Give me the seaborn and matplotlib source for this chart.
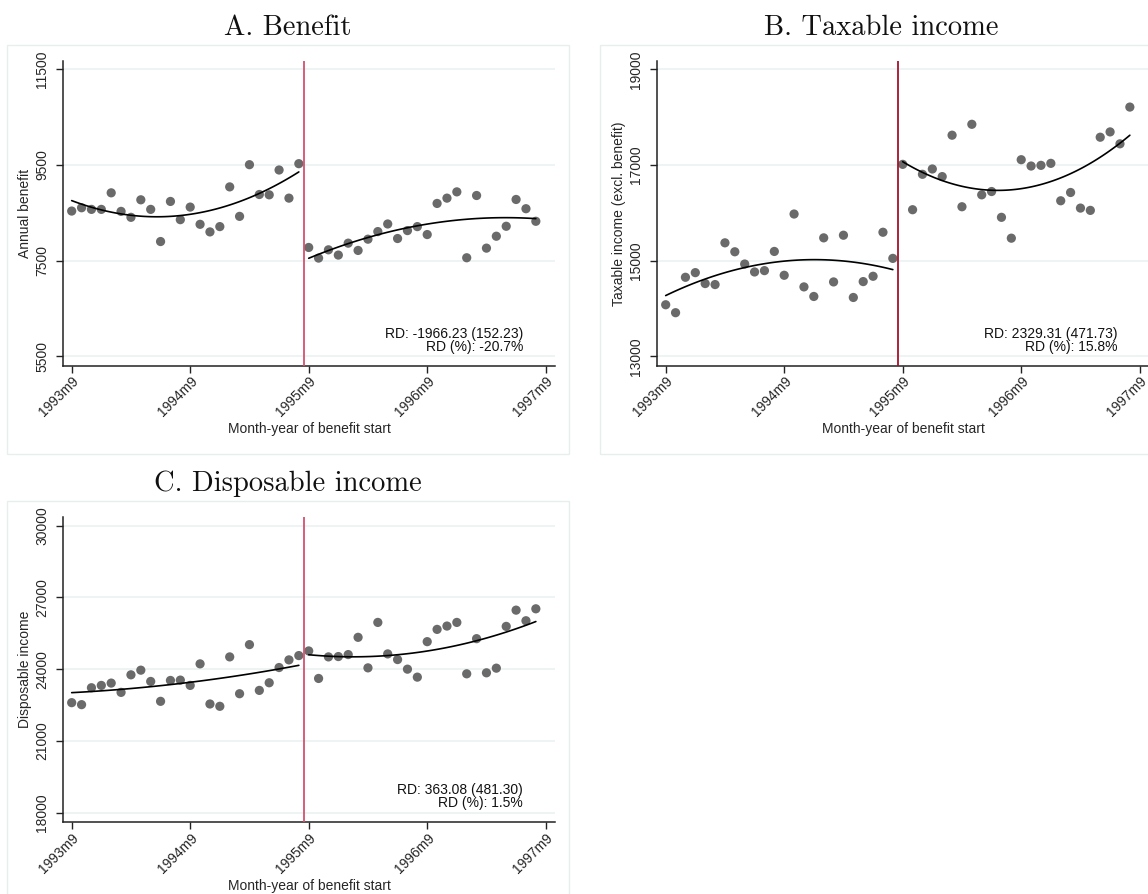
import numpy as np
import pandas as pd
import matplotlib
matplotlib.use("Agg")
import matplotlib.pyplot as plt
import seaborn as sns
from matplotlib.patches import Rectangle

# ---------------- data ----------------
month_index = list(range(48))          # 0 = 1993m9 ... 47 = 1997m8
tick_months = [0, 12, 24, 36, 48]
tick_labels = ["1993m9", "1994m9", "1995m9", "1996m9", "1997m9"]
cutoff = 23.5                          # reform at 1995m9

benefit = [8538, 8607, 8573, 8573, 8919, 8531, 8407, 8773, 8573, 7901, 8739, 8358,
           8621, 8261, 8102, 8213, 9043, 8427, 9507, 8884, 8877, 9396, 8808, 9528,
           7777, 7555, 7728, 7618, 7867, 7715, 7950, 8109, 8268, 7964, 8130, 8213,
           8047, 8697, 8808, 8939, 7562, 8863, 7763, 8012, 8220, 8780, 8587, 8324]

taxable = [14080, 13914, 14654, 14751, 14523, 14502, 15374, 15187, 14931, 14765, 14793, 15194,
           14696, 15976, 14453, 14253, 15478, 14557, 15533, 14232, 14564, 14675, 15595, 15049,
           17014, 16066, 16806, 16917, 16758, 17623, 16128, 17851, 16377, 16446, 15907, 15471,
           17111, 16979, 16993, 17035, 16253, 16426, 16100, 16052, 17581, 17692, 17443, 18211]

disposable = [22600, 22517, 23224, 23321, 23418, 23030, 23764, 23958, 23487, 22656, 23529, 23543,
              23321, 24222, 22545, 22448, 24513, 22974, 25026, 23113, 23432, 24069, 24388, 24568,
              24762, 23612, 24513, 24527, 24610, 25331, 24055, 25954, 24638, 24402, 24000, 23667,
              25150, 25663, 25802, 25954, 23806, 25275, 23848, 24042, 25788, 26467, 26024, 26523]

titles = ["A. Benefit", "B. Taxable income", "C. Disposable income"]
ylabels = ["Annual benefit", "Taxable income (excl. benefit)", "Disposable income"]
yticks = [[5500, 7500, 9500, 11500], [13000, 15000, 17000, 19000],
          [18000, 21000, 24000, 27000, 30000]]
ylims = [(5300, 11680), (12800, 19180), (17600, 30360)]
rd_text = [("RD: -1966.23 (152.23)", "RD (%): -20.7%"),
           ("RD: 2329.31 (471.73)", "RD (%): 15.8%"),
           ("RD: 363.08 (481.30)", "RD (%): 1.5%")]
series = [benefit, taxable, disposable]

# ---------------- style ----------------
sns.set_theme(style="white")
plt.rcParams["font.family"] = ["Liberation Sans", "DejaVu Sans"]

W, H = 1148, 894
fig = plt.figure(figsize=(W / 100, H / 100), dpi=100)

grid_col = "#e9f0f0"
cut_cols = ["#d4506f", "#a8102c", "#d4506f"]

# pixel layout (left, top) of each axes, box (x0,y0,x1,y1)
ax_px = [(63, 60.7), (657, 60.7), (63, 517)]
ax_w, ax_h = 492, 305.3
boxes = [(7, 45, 569, 454), (600, 45, 1162, 454), (7, 501, 569, 910)]
title_pos = [(288, 35), (881, 35), (288, 491)]

for i in range(3):
    lx, ty = ax_px[i]
    ax = fig.add_axes([lx / W, (H - ty - ax_h) / H, ax_w / W, ax_h / H])
    df = pd.DataFrame({"month": month_index, "value": series[i]})
    df["side"] = np.where(df["month"] < cutoff, "pre", "post")

    # gridlines
    for yt in yticks[i]:
        ax.axhline(yt, color=grid_col, lw=1.1, zorder=0)

    sns.scatterplot(data=df, x="month", y="value", ax=ax, color="#6a6a6a",
                    s=44, edgecolor="none", zorder=3, legend=False)

    # quadratic fits on each side of the cutoff
    fits = []
    for side in ["pre", "post"]:
        d = df[df["side"] == side]
        coef = np.polyfit(d["month"], d["value"], 2)
        xs = np.linspace(d["month"].min(), d["month"].max(), 100)
        fits.append(pd.DataFrame({"month": xs, "fit": np.polyval(coef, xs), "side": side}))
    fit_df = pd.concat(fits)
    for side in ["pre", "post"]:
        sns.lineplot(data=fit_df[fit_df["side"] == side], x="month", y="fit", ax=ax,
                     color="black", lw=1.2, zorder=4, legend=False)

    ax.axvline(cutoff, color=cut_cols[i], lw=1.3, zorder=5)

    ax.set_xlim(-0.88, 48.94)
    ax.set_ylim(*ylims[i])
    ax.set_xticks(tick_months)
    ax.set_xticklabels(tick_labels, rotation=45, ha="right", va="top",
                       rotation_mode="anchor", fontsize=10)
    ax.set_yticks(yticks[i])
    ax.set_yticklabels([str(v) for v in yticks[i]], rotation=90, va="center", fontsize=10)
    ax.tick_params(axis="both", direction="out", length=5, width=1, color="#222222",
                   bottom=True, left=True)
    ax.tick_params(axis="x", pad=1)
    ax.tick_params(axis="y", pad=5)
    for sp in ["top", "right"]:
        ax.spines[sp].set_visible(False)
    for sp in ["left", "bottom"]:
        ax.spines[sp].set_color("#222222")
        ax.spines[sp].set_linewidth(1.1)
    ax.set_xlabel("Month-year of benefit start", fontsize=10, labelpad=2)
    ax.set_ylabel(ylabels[i], fontsize=10, labelpad=2)

    ax.text(0.935, 0.105, rd_text[i][0], transform=ax.transAxes, ha="right",
            va="center", fontsize=10, color="#111111")
    ax.text(0.935, 0.063, rd_text[i][1], transform=ax.transAxes, ha="right",
            va="center", fontsize=10, color="#111111")

    x0, y0, x1, y1 = boxes[i]
    fig.add_artist(Rectangle((x0 / W, 1 - y1 / H), (x1 - x0) / W, (y1 - y0) / H,
                             transform=fig.transFigure, fill=False,
                             edgecolor="#e6eeee", lw=1.0, zorder=-1))
    tx, tyy = title_pos[i]
    fig.text(tx / W, 1 - tyy / H, titles[i], fontfamily="cmr10", fontsize=20.5,
             ha="center", va="baseline", color="#111111")

fig.savefig("out.png", dpi=100, facecolor="white")
